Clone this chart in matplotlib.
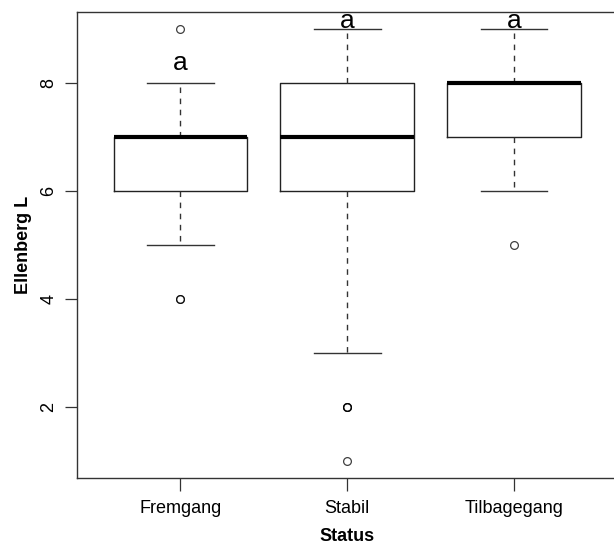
import matplotlib
matplotlib.use("Agg")
import matplotlib.pyplot as plt

plt.rcParams['font.family'] = ['Liberation Sans', 'DejaVu Sans']

# Five-number summaries per status group (Ellenberg light value)
categories = ["Fremgang", "Stabil", "Tilbagegang"]
whisker_low = [5, 3, 6]
q1 = [6, 6, 7]
medians = [7, 7, 8]
q3 = [7, 8, 8]
whisker_high = [8, 9, 9]
outliers = [[4, 4, 9], [2, 2, 2, 1], [5]]

# Significance letters and their heights
letters = ["a", "a", "a"]
letter_y = [8.37, 9.15, 9.15]

y_ticks = [2, 4, 6, 8]

stats = []
for i, name in enumerate(categories):
    stats.append(dict(label=name, med=medians[i], q1=q1[i], q3=q3[i],
                      whislo=whisker_low[i], whishi=whisker_high[i],
                      fliers=outliers[i]))

fig = plt.figure(figsize=(6.14, 5.45), dpi=100)
ax = fig.add_axes([0.1254, 0.1229, 0.8800, 0.8551])

positions = list(range(1, len(categories) + 1))
ax.bxp(stats, positions=positions, widths=0.8, showfliers=True,
       boxprops=dict(color="#222222", linewidth=1.0),
       medianprops=dict(color="black", linewidth=3.0, solid_capstyle="butt"),
       whiskerprops=dict(color="#333333", linewidth=1.0, linestyle=(0, (4, 4))),
       capprops=dict(color="#333333", linewidth=1.0),
       capwidths=0.4,
       flierprops=dict(marker="o", markerfacecolor="none",
                       markeredgecolor="black", markersize=5.6,
                       markeredgewidth=0.9, alpha=0.75))

for x, t, y in zip(positions, letters, letter_y):
    ax.text(x, y, t, ha="center", va="center", fontsize=19, color="black")

ax.set_xlim(0.38, 3.62)
ax.set_ylim(0.68, 9.32)
ax.set_yticks(y_ticks)
ax.set_yticklabels([str(v) for v in y_ticks], rotation=90, va="center")
ax.set_xticks(positions)
ax.set_xticklabels(categories)
ax.tick_params(axis="both", length=9, width=0.9, color="#333333",
               labelsize=13, pad=7)
ax.tick_params(axis="y", pad=5)

for s in ax.spines.values():
    s.set_linewidth(1.0)
    s.set_color("#333333")

ax.set_xlabel("Status", fontsize=13, fontweight="bold", labelpad=8)
ax.set_ylabel("Ellenberg L", fontsize=13, fontweight="bold", labelpad=6)

fig.savefig("out.png", dpi=100)
